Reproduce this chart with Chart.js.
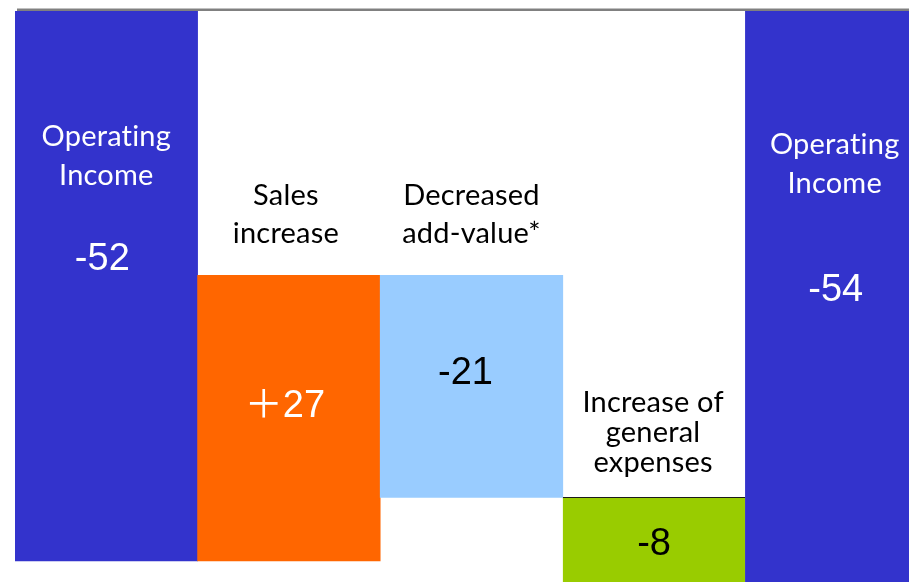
<!DOCTYPE html>
<html>
<head>
<meta charset="utf-8">
<script src="https://cdn.jsdelivr.net/npm/chart.js@4/dist/chart.umd.min.js"></script>
<style>
  html, body { margin: 0; padding: 0; background: #fff; overflow: hidden; }
  #wrap { position: relative; width: 928px; height: 582px; }
</style>
</head>
<body>
<div id="wrap"><canvas id="bridge"></canvas></div>
<script>
// operating income bridge: start total, three changes, end total
var categories = [
    ["Operating", "Income"],
    ["Sales", "increase"],
    ["Decreased", "add-value*"],
    ["Increase of", "general", "expenses"],
    ["Operating", "Income"]
];
var amounts = [-52, 27, -21, -8, -54];
var isTotal = [true, false, false, false, true];

var barColors = ["#3333CC", "#FF6600", "#99CCFF", "#99CC00", "#3333CC"];
var nameColors = ["#ffffff", "#000000", "#000000", "#000000", "#ffffff"];
var valueColors = ["#ffffff", "#ffffff", "#000000", "#000000", "#ffffff"];

// label placement, measured from the upper edge / centre of each bar
var nameOffset = [126, -80, -80, -95, 134];
var nameGap = [39, 38, 38, 30, 39];
var nameShift = [0, -3, 0, -1, -2];
var valueOffset = [249, 131, 98, 47, 280];
var valueShift = [-4, -4, -6, 0, -1];

// turn the amounts into floating [from, to] ranges
var ranges = [];
var running = 0;
for (var i = 0; i < amounts.length; i++) {
    if (isTotal[i]) {
        ranges.push([0, amounts[i]]);
        running = amounts[i];
    } else {
        ranges.push([running, running + amounts[i]]);
        running += amounts[i];
    }
}

function valueText(v) {
    return v > 0 ? "\uFF0B" + v : String(v);
}

var bridgeLabels = {
    id: "bridgeLabels",
    afterDatasetsDraw: function(chart) {
        var ctx = chart.ctx;
        var meta = chart.getDatasetMeta(0);
        ctx.save();

        // zero line across the top
        var y0 = chart.scales.y.getPixelForValue(0);
        ctx.fillStyle = "#c0c0c0";
        ctx.fillRect(chart.chartArea.left + 2, y0 - 3, chart.width, 1);
        ctx.fillStyle = "#808080";
        ctx.fillRect(chart.chartArea.left + 2, y0 - 2, chart.width, 2);

        ctx.textAlign = "center";
        ctx.textBaseline = "middle";
        meta.data.forEach(function(bar, i) {
            var top = Math.min(bar.y, bar.base);
            ctx.fillStyle = nameColors[i];
            ctx.font = '29px Lato, "Open Sans", sans-serif';
            ctx.letterSpacing = "0.2px"; // keeps "ti" from joining
            categories[i].forEach(function(line, k) {
                ctx.fillText(line, bar.x + nameShift[i], top + nameOffset[i] + k * nameGap[i]);
            });
            ctx.letterSpacing = "0px";
            ctx.fillStyle = valueColors[i];
            ctx.font = '38px "Liberation Sans", Arial, "Noto Sans CJK JP", sans-serif';
            ctx.fillText(valueText(amounts[i]), bar.x + valueShift[i], top + valueOffset[i]);
        });
        ctx.restore();
    }
};

new Chart("bridge", {
    type: "bar",
    data: {
        labels: categories.map(function(c) { return c.join(" "); }),
        datasets: [{
            data: ranges,
            backgroundColor: barColors,
            borderColor: ["#3333CC", "#FF6600", "#99CCFF", "#1a1a1a", "#3333CC"],
            borderWidth: [0, 0, 0, { top: 1, left: 0, right: 0, bottom: 0 }, 0],
            borderSkipped: false,
            barPercentage: 1,
            categoryPercentage: 1
        }]
    },
    options: {
        responsive: true,
        maintainAspectRatio: false,
        animation: false,
        layout: { padding: { left: 15, top: 11, right: 0, bottom: 0 } },
        plugins: {
            legend: { display: false },
            tooltip: { enabled: false }
        },
        scales: {
            x: { display: false },
            y: { display: false, min: -54, max: 0 }
        }
    },
    plugins: [bridgeLabels]
});
</script>
</body>
</html>
